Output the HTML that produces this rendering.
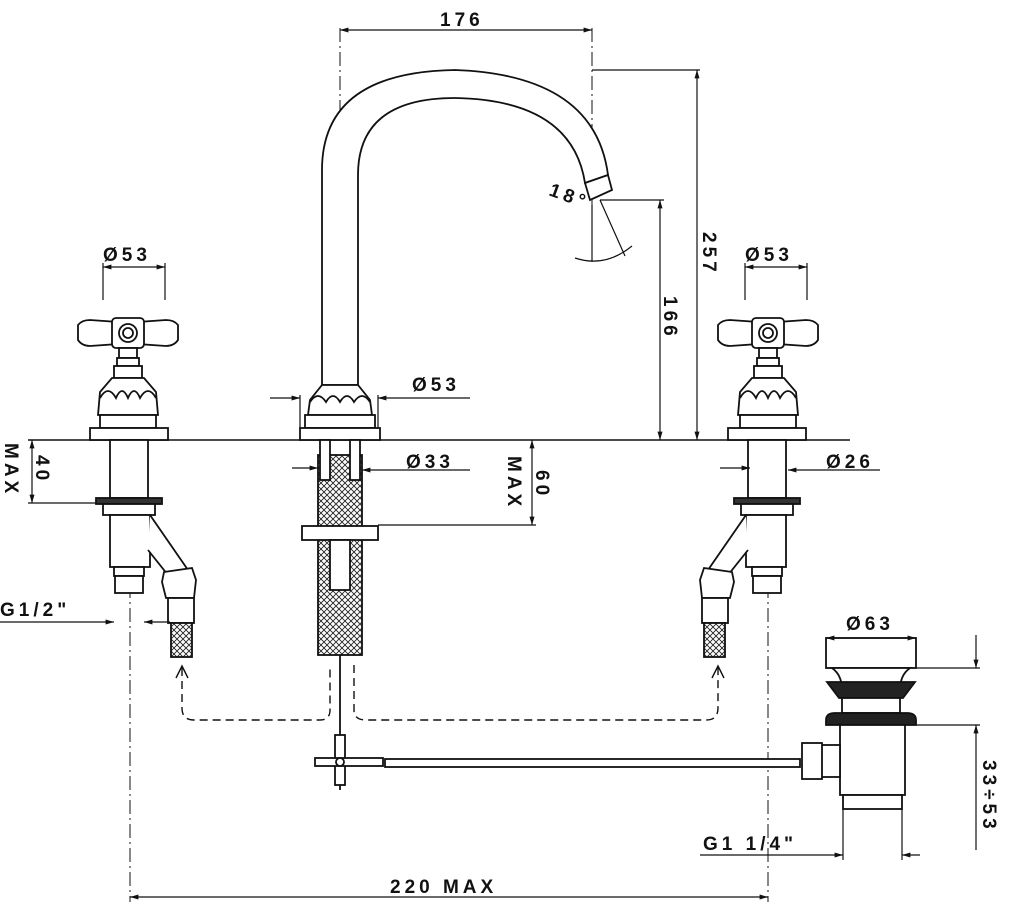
<!DOCTYPE html>
<html><head><meta charset="utf-8"><style>
html,body{margin:0;padding:0;background:#fff}
svg{display:block}
text{font-family:"Liberation Sans",sans-serif;font-size:19px;font-weight:bold;letter-spacing:4px;fill:#111}
</style></head><body>
<svg width="1014" height="924" viewBox="0 0 1014 924" xmlns="http://www.w3.org/2000/svg">
<defs>
<pattern id="hat" width="6" height="6" patternUnits="userSpaceOnUse">
<rect width="6" height="6" fill="#fff"/>
<path d="M0,0L6,6M6,0L0,6" stroke="#222" stroke-width="0.9"/>
</pattern>
<marker id="a" viewBox="0 0 10 10" refX="10" refY="5" markerWidth="9" markerHeight="7" orient="auto-start-reverse"><path d="M0,2L10,5L0,8z" fill="#111"/></marker>
<g id="valve" fill="#fff" stroke="#111" stroke-width="1.8">
<path d="M78,325 Q82,320 90,320 L118,322 L118,344 L90,346 Q82,346 78,340 Z"/>
<path d="M178,325 Q174,320 166,320 L138,322 L138,344 L166,346 Q174,346 178,340 Z"/>
<rect x="112" y="318" width="32" height="30" rx="4"/>
<circle cx="128" cy="333" r="9"/><circle cx="128" cy="333" r="5"/>
<rect x="119" y="348" width="18" height="10"/>
<rect x="117" y="358" width="22" height="8"/>
<rect x="114" y="366" width="28" height="12"/>
<path d="M112,378 L144,378 L156,392 L158,415 L98,415 L100,392 Z"/>
<path d="M100,398 Q108,384 116,398 Q122,384 128,398 Q134,384 140,398 Q148,384 156,398" fill="none"/>
<rect x="100" y="415" width="56" height="13"/>
<rect x="90" y="428" width="78" height="12"/>
<rect x="110" y="440" width="38" height="58"/>
<rect x="96" y="498" width="66" height="6" fill="#333"/>
<rect x="103" y="504" width="52" height="11"/>
<rect x="110" y="515" width="40" height="52"/>
<rect x="114" y="567" width="30" height="9"/>
<rect x="115" y="576" width="28" height="17"/>
<path d="M150,515 L188,570 L172,580 L148,550" />
<path d="M164,572 L192,568 L196,580 L194,598 L166,598 L162,582 Z"/>
<rect x="168" y="598" width="26" height="25"/>
<rect x="171" y="623" width="21" height="34" fill="url(#hat)"/>
</g>
</defs>

<g stroke="#111" stroke-width="1.4" fill="none">
<line x1="28" y1="440" x2="850" y2="440"/>
<g stroke-dasharray="14,4,2,4" stroke-width="1">
<line x1="340" y1="28" x2="340" y2="440"/>
<line x1="592" y1="28" x2="592" y2="205"/>
<line x1="130" y1="440" x2="130" y2="902"/>
<line x1="768" y1="440" x2="768" y2="902"/>
</g>
<path d="M182,668 L182,708 Q182,720 194,720 L320,720 Q330,720 330,710 L330,665" stroke-dasharray="8,5"/>
<path d="M354,665 L354,710 Q354,720 366,720 L706,720 Q718,720 718,708 L718,668" stroke-dasharray="8,5"/>
<path d="M176,678 L182,666 L188,678" />
<path d="M712,678 L718,666 L724,678" />
</g>

<use href="#valve"/>
<use href="#valve" transform="translate(896,0) scale(-1,1)"/>

<g fill="#fff" stroke="#111" stroke-width="1.8">
<path d="M322,385 L322,170 Q322,72 455,70 Q595,75 608,175 L585,183 Q572,100 455,98 Q358,98 358,175 L358,385 Z"/>
<path d="M585,183 L608,175 L612,190 L590,200 Z"/>
<path d="M322,385 L358,385 L370,400 L372,415 L308,415 L310,400 Z"/>
<path d="M310,402 Q318,390 326,402 Q333,390 340,402 Q347,390 354,402 Q362,390 370,402" fill="none"/>
<rect x="305" y="415" width="70" height="13"/>
<rect x="300" y="428" width="80" height="12"/>
<rect x="318" y="455" width="44" height="200" fill="url(#hat)"/>
<rect x="320" y="440" width="10" height="40"/>
<rect x="350" y="440" width="10" height="40"/>
<rect x="302" y="526" width="76" height="14"/>
<rect x="330" y="540" width="20" height="50"/>
<line x1="340" y1="655" x2="340" y2="790"/>
<rect x="335" y="735" width="10" height="50"/>
<rect x="315" y="758" width="68" height="8"/>
<circle cx="340" cy="762" r="4"/>
<rect x="385" y="759" width="415" height="8"/>
<rect x="826" y="638" width="90" height="30"/>
<path d="M832,668 Q842,675 842,690 L900,690 Q900,675 910,668 Z"/>
<path d="M827,682 L915,682 L903,698 L839,698 Z" fill="#222"/>
<rect x="842" y="698" width="58" height="15"/>
<path d="M826,720 Q826,713 835,713 L907,713 Q916,713 916,720 L916,725 L826,725 Z" fill="#222"/>
<path d="M840,725 L905,725 L905,795 L840,795 Z"/>
<rect x="843" y="795" width="59" height="14"/>
<rect x="820" y="745" width="20" height="32"/>
<rect x="802" y="743" width="20" height="36"/>
</g>

<g stroke="#111" stroke-width="1.2" fill="none">
<line x1="340" y1="30" x2="592" y2="30" marker-start="url(#a)" marker-end="url(#a)"/>
<line x1="592" y1="70" x2="700" y2="70"/>
<line x1="697" y1="70" x2="697" y2="440" marker-start="url(#a)" marker-end="url(#a)"/>
<line x1="600" y1="200" x2="664" y2="200"/>
<line x1="660" y1="200" x2="660" y2="440" marker-start="url(#a)" marker-end="url(#a)"/>
<path d="M592,205 L592,262 M575,258 Q605,268 632,246 M600,200 L625,256"/>
<line x1="103" y1="263" x2="103" y2="300"/><line x1="165" y1="263" x2="165" y2="300"/>
<line x1="103" y1="267" x2="165" y2="267" marker-start="url(#a)" marker-end="url(#a)"/>
<line x1="745" y1="263" x2="745" y2="300"/><line x1="807" y1="263" x2="807" y2="300"/>
<line x1="745" y1="267" x2="807" y2="267" marker-start="url(#a)" marker-end="url(#a)"/>
<line x1="300" y1="395" x2="300" y2="428"/><line x1="378" y1="395" x2="378" y2="428"/>
<line x1="270" y1="398" x2="300" y2="398" marker-end="url(#a)"/>
<line x1="470" y1="398" x2="378" y2="398" marker-end="url(#a)"/>
<line x1="292" y1="468" x2="318" y2="468" marker-end="url(#a)"/>
<line x1="470" y1="470" x2="362" y2="470" marker-end="url(#a)"/>
<line x1="378" y1="525" x2="536" y2="525"/>
<line x1="532" y1="440" x2="532" y2="525" marker-start="url(#a)" marker-end="url(#a)"/>
<line x1="28" y1="503" x2="96" y2="503"/>
<line x1="32" y1="440" x2="32" y2="503" marker-start="url(#a)" marker-end="url(#a)"/>
<line x1="720" y1="468" x2="750" y2="468" marker-end="url(#a)"/>
<line x1="880" y1="470" x2="788" y2="470" marker-end="url(#a)"/>
<line x1="0" y1="622" x2="114" y2="622" marker-end="url(#a)"/>
<line x1="170" y1="622" x2="144" y2="622" marker-end="url(#a)"/>
<line x1="826" y1="638" x2="916" y2="638" marker-start="url(#a)" marker-end="url(#a)"/>
<line x1="916" y1="668" x2="980" y2="668"/>
<line x1="916" y1="725" x2="980" y2="725"/>
<line x1="976" y1="635" x2="976" y2="668" marker-end="url(#a)"/>
<line x1="976" y1="850" x2="976" y2="725" marker-end="url(#a)"/>
<line x1="700" y1="855" x2="843" y2="855" marker-end="url(#a)"/>
<line x1="920" y1="855" x2="902" y2="855" marker-end="url(#a)"/>
<line x1="843" y1="809" x2="843" y2="860"/><line x1="902" y1="809" x2="902" y2="860"/>
<line x1="130" y1="897" x2="768" y2="897" marker-start="url(#a)" marker-end="url(#a)"/>
</g>

<text x="440" y="26">176</text>
<text x="103" y="261">Ø53</text>
<text x="745" y="261">Ø53</text>
<text x="412" y="391">Ø53</text>
<text x="406" y="468">Ø33</text>
<text x="826" y="468">Ø26</text>
<text x="0" y="616">G1/2"</text>
<text x="846" y="630">Ø63</text>
<text x="703" y="850">G1 1/4"</text>
<text x="390" y="893">220 MAX</text>
<text transform="translate(548,195) rotate(20)" font-size="18">18°</text>
<text transform="translate(703,232) rotate(90)">257</text>
<text transform="translate(664,296) rotate(90)">166</text>
<text transform="translate(536,470) rotate(90)">60</text>
<text transform="translate(508,456) rotate(90)">MAX</text>
<text transform="translate(36,455) rotate(90)">40</text>
<text transform="translate(5,443) rotate(90)">MAX</text>
<text transform="translate(983,760) rotate(90)">33÷53</text>
</svg>
</body></html>
